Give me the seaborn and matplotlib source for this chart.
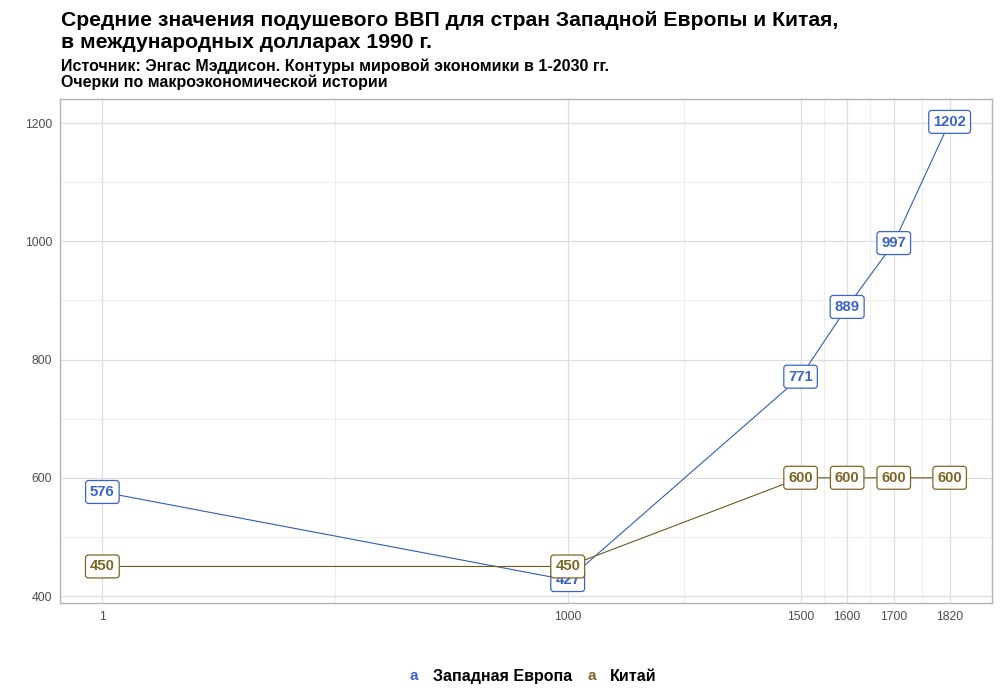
import matplotlib
matplotlib.use("Agg")
import matplotlib.pyplot as plt
import seaborn as sns
import pandas as pd

years = [1, 1000, 1500, 1600, 1700, 1820]
europe = [576, 427, 771, 889, 997, 1202]
china = [450, 450, 600, 600, 600, 600]
series_names = ["Западная Европа", "Китай"]
x_ticks = [1, 1000, 1500, 1600, 1700, 1820]
x_minor = [500.5, 1250, 1550, 1650, 1760]
y_ticks = [400, 600, 800, 1000, 1200]
y_minor = [500, 700, 900, 1100]

title = "Средние значения подушевого ВВП для стран Западной Европы и Китая,\nв международных долларах 1990 г."
subtitle = "Источник: Энгас Мэддисон. Контуры мировой экономики в 1-2030 гг.\nОчерки по макроэкономической истории"

line_colors = {"Западная Европа": "#2f5fb0", "Китай": "#6e5a1c"}
text_colors = {"Западная Европа": "#3a64cc", "Китай": "#7d6624"}

df = pd.DataFrame({
    "year": years * 2,
    "value": europe + china,
    "series": [series_names[0]] * len(years) + [series_names[1]] * len(years),
})

sns.set_theme(style="white")
plt.rcParams["font.family"] = ["Liberation Sans", "DejaVu Sans"]

fig = plt.figure(figsize=(10, 7), dpi=100)
ax = fig.add_axes([0.060, 0.1386, 0.932, 0.720])

sns.lineplot(data=df, x="year", y="value", hue="series", palette=line_colors,
             linewidth=0.8, ax=ax, legend=False, zorder=2)

for _, r in df.iterrows():
    s = r["series"]
    ax.text(r["year"], r["value"], f"{int(r['value'])}", ha="center", va="center",
            fontsize=10.7, fontweight="bold", color=text_colors[s], zorder=5,
            bbox=dict(boxstyle="round,pad=0.3,rounding_size=0.2", fc="white",
                      ec=text_colors[s], lw=0.9))

xr = max(years) - min(years)
allv = europe + china
yr = max(allv) - min(allv)
ax.set_xlim(min(years) - 0.05 * xr, max(years) + 0.05 * xr)
ax.set_ylim(min(allv) - 0.05 * yr, max(allv) + 0.05 * yr)
ax.set_xticks(x_ticks)
ax.set_xticks(x_minor, minor=True)
ax.set_yticks(y_ticks)
ax.set_yticks(y_minor, minor=True)
ax.set_xticklabels([str(t) for t in x_ticks])
ax.grid(True, which="major", color="#dedede", lw=0.9, zorder=0)
ax.grid(True, which="minor", color="#ebebeb", lw=0.6, zorder=0)
ax.set_axisbelow(True)
for sp in ax.spines.values():
    sp.set_color("#b3b3b3")
    sp.set_linewidth(1.0)
ax.tick_params(axis="both", which="major", length=3, color="#b3b3b3",
               labelsize=8.8, labelcolor="#4d4d4d", pad=2.5)
ax.tick_params(axis="both", which="minor", length=0)
ax.set_xlabel("")
ax.set_ylabel("")

fig.text(0.061, 0.984, title, ha="left", va="top", fontsize=15.2,
         fontweight="bold", color="black", linespacing=1.22)
fig.text(0.061, 0.917, subtitle, ha="left", va="top", fontsize=11.5,
         fontweight="bold", color="black", linespacing=1.08)

# legend
ly = 0.034
fig.text(0.410, ly, "a", ha="left", va="center", fontsize=11, fontweight="bold",
         color=text_colors[series_names[0]])
fig.text(0.433, ly, series_names[0], ha="left", va="center", fontsize=11.5,
         fontweight="bold", color="black")
fig.text(0.587, ly, "a", ha="left", va="center", fontsize=11, fontweight="bold",
         color=text_colors[series_names[1]])
fig.text(0.610, ly, series_names[1], ha="left", va="center", fontsize=11.5,
         fontweight="bold", color="black")

fig.savefig("out.png", dpi=100)
